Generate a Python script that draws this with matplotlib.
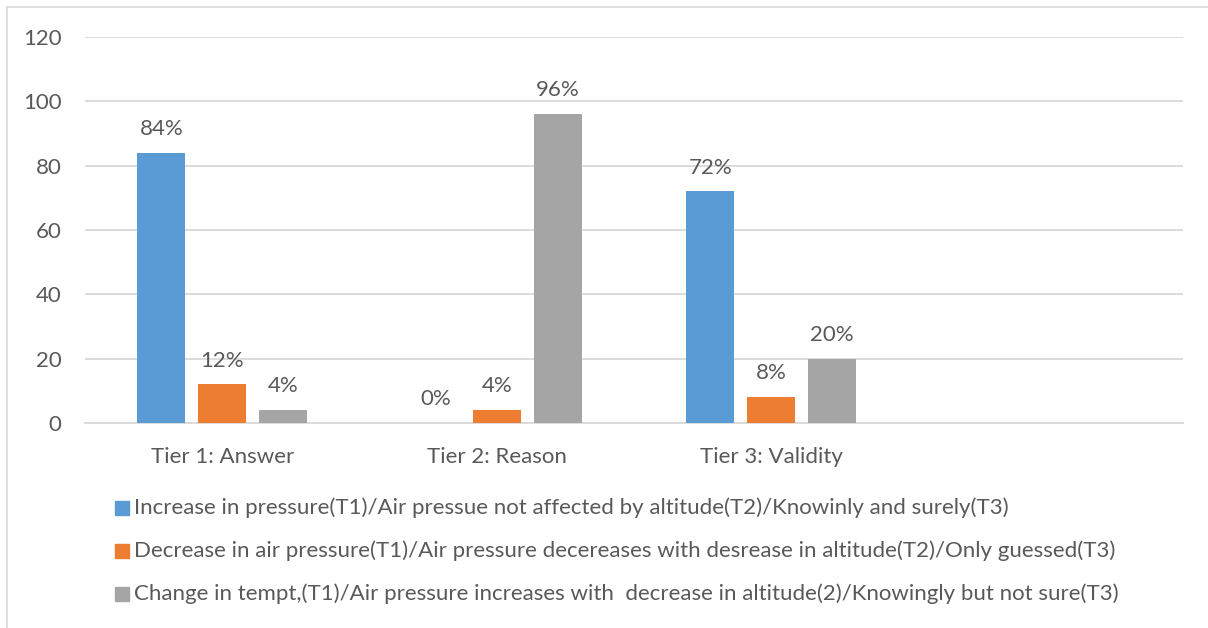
import matplotlib
matplotlib.use("Agg")
import matplotlib.pyplot as plt
from matplotlib.patches import Rectangle
from matplotlib.lines import Line2D
import numpy as np

# Chart data
categories = ["Tier 1: Answer", "Tier 2: Reason", "Tier 3: Validity", ""]
series_names = [
    "Increase in pressure(T1)/Air pressue not affected by altitude(T2)/Knowinly and surely(T3)",
    "Decrease in air pressure(T1)/Air pressure decereases with desrease in altitude(T2)/Only guessed(T3)",
    "Change in tempt,(T1)/Air pressure increases with  decrease in altitude(2)/Knowingly but not sure(T3)",
]
series_values = [
    [84, 0, 72],
    [12, 4, 8],
    [4, 96, 20],
]
y_ticks = [0, 20, 40, 60, 80, 100, 120]

colors = ["#5B9BD5", "#ED7D31", "#A5A5A5"]
text_color = "#595959"
grid_color = "#D9D9D9"
font = "Lato"
fs = 16

plt.rcParams["font.family"] = [font, "DejaVu Sans"]

W, H = 1208, 628
fig = plt.figure(figsize=(W / 100, H / 100), dpi=100)
ax = fig.add_axes([85 / W, (H - 423) / H, 1098 / W, 386 / H])

x = np.arange(len(categories))
bar_w = 0.175
step = 0.222
for i, (vals, col) in enumerate(zip(series_values, colors)):
    xs = x[:len(vals)] + (i - 1) * step
    ax.bar(xs, vals, width=bar_w, color=col, zorder=3)
    for xi, v in zip(xs, vals):
        ax.annotate(f"{v}%", (xi, v), xytext=(0, 10), textcoords="offset points",
                    ha="center", va="bottom", fontsize=fs, color=text_color)

ax.set_xlim(-0.5, len(categories) - 0.5)
ax.set_ylim(0, 120)
ax.set_yticks(y_ticks)
ax.set_xticks(x)
ax.set_xticklabels(categories)
ax.tick_params(axis="both", length=0, labelsize=fs, labelcolor=text_color)
ax.tick_params(axis="x", pad=17)
ax.tick_params(axis="y", pad=17)
ax.yaxis.grid(True, color=grid_color, linewidth=1.3, zorder=0)
for s in ["top", "right", "left"]:
    ax.spines[s].set_visible(False)
ax.spines["bottom"].set_color(grid_color)
ax.spines["bottom"].set_linewidth(1.3)

# Legend rows below the plot
row_y = [508, 551, 594]
for name, col, yy in zip(series_names, colors, row_y):
    fig.add_artist(Rectangle((115 / W, (H - yy - 7) / H), 14 / W, 14 / H,
                             transform=fig.transFigure, color=col))
    fig.text(134 / W, (H - yy) / H, name, ha="left", va="center",
             fontsize=fs, color=text_color)

# Outer frame lines
fig.add_artist(Line2D([7 / W, 1], [(H - 7) / H] * 2, transform=fig.transFigure,
                      color="#D9D9D9", linewidth=1.2))
fig.add_artist(Line2D([7 / W] * 2, [0, (H - 7) / H], transform=fig.transFigure,
                      color="#D9D9D9", linewidth=1.2))

fig.savefig("out.png", dpi=100)
